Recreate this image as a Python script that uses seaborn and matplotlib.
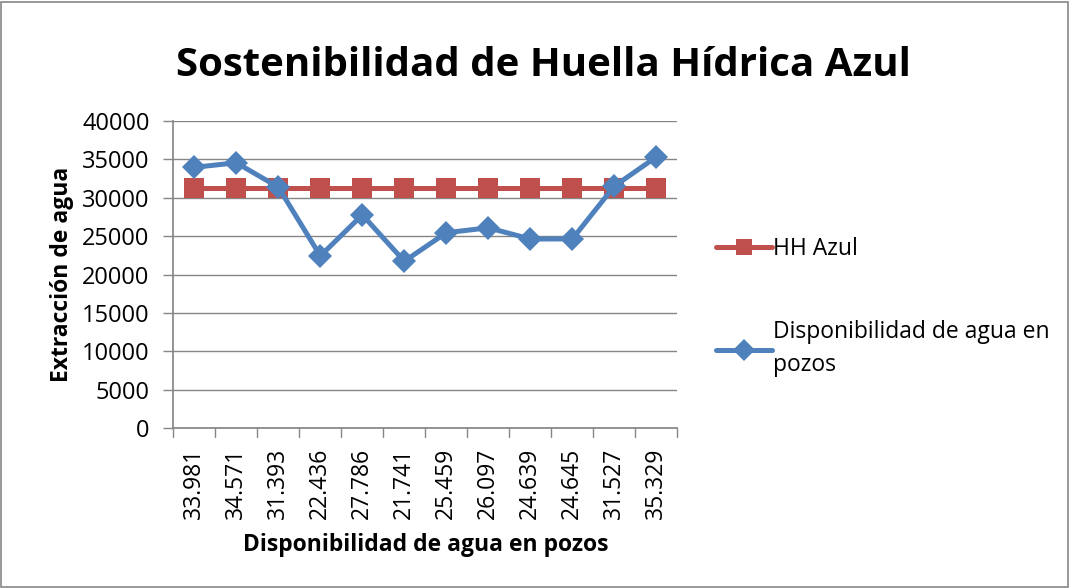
import matplotlib
matplotlib.use("Agg")
import matplotlib.pyplot as plt
import seaborn as sns
import pandas as pd

categories = ["33.981", "34.571", "31.393", "22.436", "27.786", "21.741",
              "25.459", "26.097", "24.639", "24.645", "31.527", "35.329"]
disponibilidad = [33981, 34571, 31393, 22436, 27786, 21741,
                  25459, 26097, 24639, 24645, 31527, 35329]
hh_azul = [31300] * 12

sns.set_theme(style="white")
plt.rcParams["font.family"] = ["Open Sans", "DejaVu Sans"]
plt.rcParams["text.color"] = "black"

df = pd.DataFrame({"cat": categories, "HH Azul": hh_azul,
                   "Disponibilidad de agua en pozos": disponibilidad})
df["x"] = range(len(categories))

fig = plt.figure(figsize=(10.7, 5.88), dpi=100)
ax = fig.add_axes([0.162, 0.272, 0.471, 0.522])

red = "#C0504D"
blue = "#4F81BD"
grey = "#868686"
sns.lineplot(data=df, x="x", y="HH Azul", ax=ax, color=red, lw=3.6,
             marker="s", markersize=14, markeredgewidth=0,
             label="HH Azul", zorder=3)
sns.lineplot(data=df, x="x", y="Disponibilidad de agua en pozos", ax=ax,
             color=blue, lw=3.6, marker="D", markersize=12, markeredgewidth=0,
             label="Disponibilidad de agua en\npozos", zorder=4)

ax.set_xlim(-0.5, len(categories) - 0.5)
ax.set_ylim(0, 40000)
ax.set_yticks(range(0, 40001, 5000))
ax.set_xticks(df["x"])
ax.set_xticklabels(categories, rotation=90, fontsize=16.5)
ax.tick_params(axis="y", labelsize=17, length=7, color=grey, width=1,
               left=True, pad=10, labelcolor="black")
ax.tick_params(axis="x", length=0, pad=14, labelcolor="black")
# category separator ticks
for b in [i - 0.5 for i in range(len(categories) + 1)]:
    ax.plot([b, b], [0, -1100], color=grey, lw=1, clip_on=False)
ax.grid(axis="y", color=grey, lw=1)
for s in ["top", "right"]:
    ax.spines[s].set_visible(False)
ax.spines["left"].set_color(grey)
ax.spines["bottom"].set_color(grey)

ax.set_xlabel("Disponibilidad de agua en pozos", fontsize=16.5, fontweight="bold",
              labelpad=10, color="black")
ax.set_ylabel("Extracción de agua", fontsize=16.5, fontweight="bold", labelpad=6,
              color="black")
fig.text(0.508, 0.889, "Sostenibilidad de Huella Hídrica Azul", ha="center",
         va="center", fontsize=29, fontweight="bold", color="black")

leg = ax.legend(loc="upper left", bbox_to_anchor=(1.035, 0.69), frameon=False,
                fontsize=16.5, handlelength=2.45, handletextpad=0.05,
                labelspacing=2.6)
for h in leg.legend_handles:
    h.set_markersize(11)
for t in leg.get_texts():
    t.set_linespacing(1.45)

# outer chart border
fig.patches.append(plt.Rectangle((0.001, 0.002), 0.997, 0.995,
                                 transform=fig.transFigure, fill=False,
                                 edgecolor=grey, lw=1.2))
fig.savefig("out.png", dpi=100)
